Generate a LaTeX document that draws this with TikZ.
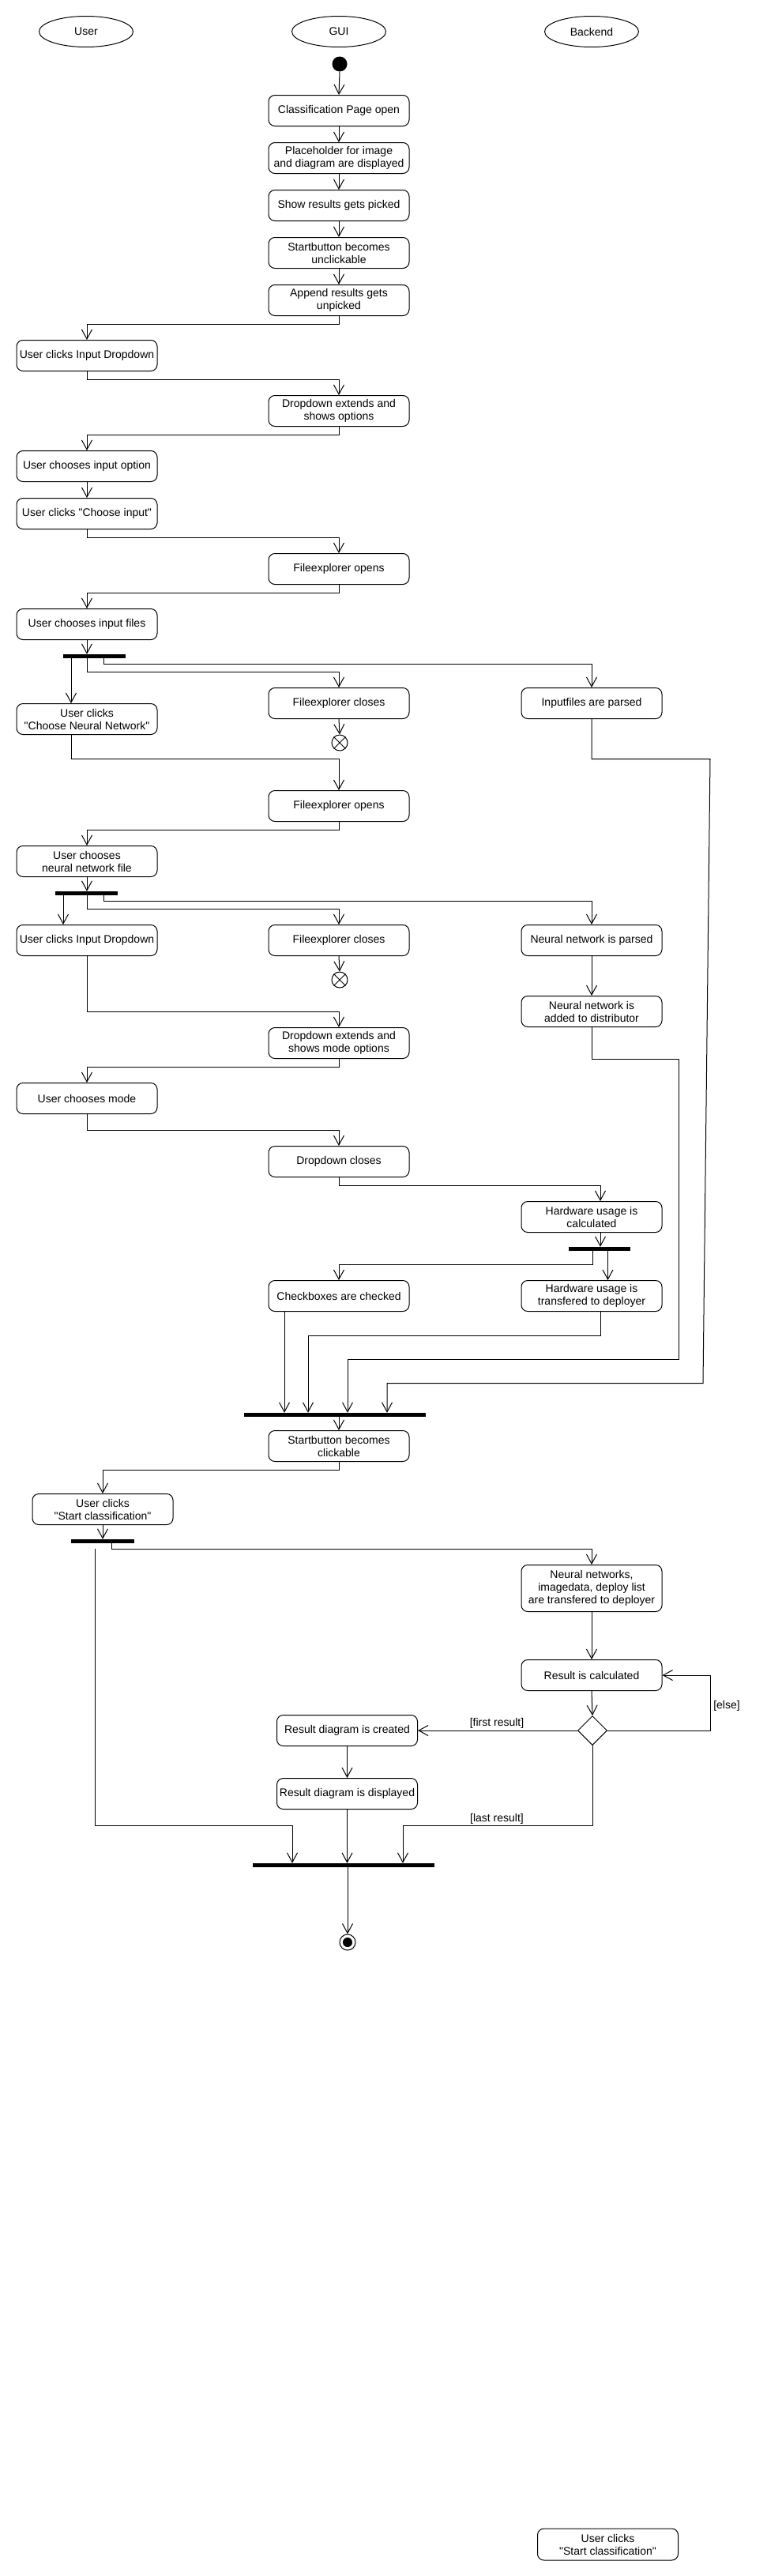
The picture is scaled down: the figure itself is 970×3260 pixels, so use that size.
\documentclass[tikz,border=0pt]{standalone}
\usepackage{fontspec}
\setmainfont{Liberation Sans}[Ligatures=TeXOff]
\usetikzlibrary{arrows.meta,shapes.geometric,calc}
\newcommand\fs{\fontsize{14pt}{16pt}\selectfont}
\tikzset{
  act/.style={draw, line width=1pt, rounded corners=8pt, minimum width=178pt, minimum height=39pt, align=center, inner sep=0pt, font=\fs},
  lane/.style={draw, ellipse, line width=1pt, minimum width=119pt, minimum height=39pt, inner sep=0pt, font=\fs},
  bar/.style={rectangle, fill=black, draw=none, minimum height=5pt, inner sep=0pt},
  flow/.style={line width=1pt, -{Straight Barb[length=12pt,width=13pt,line width=1pt]}},
  conn/.style={line width=1pt},
  guard/.style={font=\fs, inner sep=0pt, anchor=base},
  decision/.style={draw, diamond, aspect=1, line width=1pt, minimum width=37pt, minimum height=37pt, inner sep=0pt},
}
\begin{document}
\begin{tikzpicture}[x=1pt, y=-1pt]
\fill[white] (0,0) rectangle (970,3260);
\useasboundingbox (0,0) rectangle (970,3260);

% swimlane heads
\node[lane] (hu) at (109,40) {User};
\node[lane] (hg) at (429,40) {GUI};
\node[lane] (hb) at (749,40) {Backend};

% start
\node[circle, fill=black, minimum size=19pt, inner sep=0pt] (start) at (430,81) {};

% GUI initial steps
\node[act] (n1) at (429,140) {Classification Page open};
\node[act] (n2) at (429,200) {Placeholder for image\\and diagram are displayed};
\node[act] (n3) at (429,260) {Show results gets picked};
\node[act] (n4) at (429,320) {Startbutton becomes\\unclickable};
\node[act] (n5) at (429,380) {Append results gets\\unpicked};

\node[act] (u1) at (110,450) {User clicks Input Dropdown};
\node[act] (g6) at (429,520) {Dropdown extends and\\shows options};
\node[act] (u2) at (110,590) {User chooses input option};
\node[act] (u3) at (110,650) {User clicks "Choose input"};
\node[act] (g7) at (429,720) {Fileexplorer opens};
\node[act] (u4) at (110,790) {User chooses input files};

\node[bar, minimum width=79pt] (fork1) at (119.5,830.5) {};

\node[act] (u5) at (110,910) {User clicks\\"Choose Neural Network"};
\node[act] (g8) at (429,890) {Fileexplorer closes};
\node[act] (b1) at (749,890) {Inputfiles are parsed};
\node[circle, draw, line width=1pt, minimum size=20pt, inner sep=0pt] (ff1) at (430,940) {};

\node[act] (g9) at (429,1020) {Fileexplorer opens};
\node[act] (u6) at (110,1090) {User chooses\\neural network file};

\node[bar, minimum width=79pt] (fork2) at (109.5,1130.5) {};

\node[act] (u7) at (110,1190) {User clicks Input Dropdown};
\node[act] (g10) at (429,1190) {Fileexplorer closes};
\node[act] (b2) at (749,1190) {Neural network is parsed};
\node[circle, draw, line width=1pt, minimum size=20pt, inner sep=0pt] (ff2) at (430,1240) {};
\node[act] (b3) at (749,1280) {Neural network is\\added to distributor};

\node[act] (g11) at (429,1320) {Dropdown extends and\\shows mode options};
\node[act] (u8) at (110,1390) {User chooses mode};
\node[act] (g12) at (429,1470) {Dropdown closes};
\node[act] (b4) at (749,1540) {Hardware usage is\\calculated};

\node[bar, minimum width=78.5pt] (fork3) at (759,1580.5) {};

\node[act] (g13) at (429,1640) {Checkboxes are checked};
\node[act] (b5) at (749,1640) {Hardware usage is\\transfered to deployer};

\node[bar, minimum width=230.5pt] (join1) at (424,1790.5) {};

\node[act] (g14) at (429,1830) {Startbutton becomes\\clickable};
\node[act] (u9) at (130,1910) {User clicks\\"Start classification"};

\node[bar, minimum width=80.5pt] (fork4) at (130,1950.5) {};

\node[act, minimum height=59pt] (b6) at (749,2010) {Neural networks,\\imagedata, deploy list\\are transfered to deployer};
\node[act] (b7) at (749,2120) {Result is calculated};
\node[decision] (d) at (750,2190) {};
\node[act] (g15) at (439.5,2190) {Result diagram is created};
\node[act] (g16) at (439.5,2270) {Result diagram is displayed};

\node[bar, minimum width=230pt] (join2) at (435,2360.5) {};

\node[circle, draw, line width=1pt, minimum size=20pt, inner sep=0pt] (end) at (440,2458) {};
\fill (end.center) circle (6pt);

% orphan box
\node[act, minimum height=40pt] (ux) at (769.5,3220) {User clicks\\"Start classification"};

% flow-final crosses
\draw[conn] (ff1.45) -- (ff1.225) (ff1.135) -- (ff1.315);
\draw[conn] (ff2.45) -- (ff2.225) (ff2.135) -- (ff2.315);

% connectors
\draw[flow] (start.south) -- (n1.north);
\draw[flow] (n1.south) -- (n2.north);
\draw[flow] (n2.south) -- (n3.north);
\draw[flow] (n3.south) -- (n4.north);
\draw[flow] (n4.south) -- (n5.north);
\draw[flow] (n5.south) -- ++(0,10.5) -| (u1.north);
\draw[flow] (u1.south) -- ++(0,10.5) -| (g6.north);
\draw[flow] (g6.south) -- ++(0,10.5) -| (u2.north);
\draw[flow] (u2.south) -- (u3.north);
\draw[flow] (u3.south) -- ++(0,10.5) -| (g7.north);
\draw[flow] (g7.south) -- ++(0,10.5) -| (u4.north);
\draw[flow] (u4.south) -- (u4.south |- fork1.north);

\draw[flow] ([xshift=-29.5pt]fork1.south) -- ([xshift=-20pt]u5.north);
\draw[flow] ([xshift=-9.5pt]fork1.south) -- ++(0,17) -| (g8.north);
\draw[flow] ([xshift=11.5pt]fork1.south) -- ++(0,7) -| (b1.north);
\draw[flow] (g8.south) -- (ff1.north);

\draw[flow] ([xshift=-20pt]u5.south) -- ++(0,30.5) -| (g9.north);
\draw[flow] (g9.south) -- ++(0,10.5) -| (u6.north);
\draw[flow] (u6.south) -- (u6.south |- fork2.north);

\draw[flow] ([xshift=-29.5pt]fork2.south) -- ([xshift=-30pt]u7.north);
\draw[flow] ([xshift=0.5pt]fork2.south) -- ++(0,17) -| (g10.north);
\draw[flow] ([xshift=21.5pt]fork2.south) -- ++(0,7) -| (b2.north);
\draw[flow] (g10.south) -- (ff2.north);
\draw[flow] (b2.south) -- (b3.north);

\draw[flow] (u7.south) -- ++(0,70.5) -| (g11.north);
\draw[flow] (g11.south) -- ++(0,10.5) -| (u8.north);
\draw[flow] (u8.south) -- ++(0,20.5) -| (g12.north);
\draw[flow] (g12.south) -- ++(0,10.5) -| ([xshift=11pt]b4.north);
\draw[flow] ([xshift=11pt]b4.south) -- ([xshift=11pt]b4.south |- fork3.north);

\draw[flow] ([xshift=-9pt]fork3.south) -- ++(0,17) -| (g13.north);
\draw[flow] ([xshift=10.5pt]fork3.south) -- ([xshift=20.5pt]b5.north);

% into join1
\draw[flow] ([xshift=-69pt]g13.south) -- ([xshift=-69pt]g13.south |- join1.north);
\draw[flow] ([xshift=11pt]b5.south) -- ++(0,30.5) -| ([xshift=-34pt]join1.north);
\draw[flow] (b3.south) -- ++(0,40.5) -- ++(110,0) -- ++(0,380) -| ([xshift=16pt]join1.north);
\draw[flow] (b1.south) -- ++(0,50.5) -- ++(150,0) -- ++(-9,790) -| ([xshift=66pt]join1.north);

\draw[flow] (join1.south -| g14.north) -- (g14.north);
\draw[flow] (g14.south) -- ++(0,10.5) -| (u9.north);
\draw[flow] (u9.south) -- (u9.south |- fork4.north);

\draw[flow] ([xshift=11pt]fork4.south) -- ++(0,7) -| (b6.north);
\draw[flow] ([xshift=-9.5pt,yshift=-7pt]fork4.south) -- ++(0,350) -| ([xshift=-65pt]join2.north);

\draw[flow] (b6.south) -- (b7.north);
\draw[flow] (b7.south) -- (d.north);
\draw[flow] (d.west) -- (g15.east);
\draw[flow] (d.east) -- ++(130.5,0) |- (b7.east);
\draw[flow] (g15.south) -- (g16.north);
\draw[flow] (g16.south) -- (g16.south |- join2.north);
\draw[flow] (d.south) -- ++(0,101.5) -| ([xshift=75pt]join2.north);
\draw[flow] (join2.south -| end.north) -- (end.north);

% guards
\node[guard] (lfirst) at (629,2184.5) {[first result]};
\node[guard] (lelse) at (920,2162) {[else]};
\node[guard] (llast) at (629,2305) {[last result]};
\end{tikzpicture}
\end{document}
